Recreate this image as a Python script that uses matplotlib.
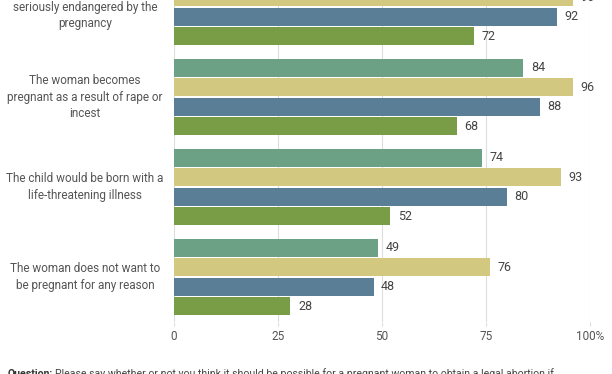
import numpy as np
import matplotlib.pyplot as plt
import matplotlib.transforms as mtransforms

plt.rcParams['font.family'] = ['Roboto', 'DejaVu Sans']

categorias = [
    "The woman's health is\nseriously endangered by the\npregnancy",
    "The woman becomes\npregnant as a result of rape or\nincest",
    "The child would be born with a\nlife-threatening illness",
    "The woman does not want to\nbe pregnant for any reason",
]
serie_a = [86, 84, 74, 49]
serie_b = [96, 96, 93, 76]
serie_c = [92, 88, 80, 48]
serie_d = [72, 68, 52, 28]
colores = ["#6ca185", "#d3c880", "#5a7e95", "#799d47"]
ticks = [0, 25, 50, 75, 100]
tick_labels = ["0", "25", "50", "75", "100%"]

fig = plt.figure(figsize=(6.12, 3.74), dpi=100)
ax = fig.add_axes([174 / 612, 52 / 374, 416 / 612, 360 / 374])

paso = 0.2167
alto = 0.205
y = np.arange(len(categorias))
for i, (serie, color) in enumerate(zip([serie_a, serie_b, serie_c, serie_d], colores)):
    pos = y + (i - 1.5) * paso
    ax.barh(pos, serie, height=alto, color=color, zorder=2)
    for p, v in zip(pos, serie):
        ax.text(v + 1.8, p, str(v), va='center', ha='left', fontsize=9, color='#444444')

ax.set_xlim(0, 100)
ax.set_ylim(3.5, -0.5)
ax.set_xticks(ticks)
ax.set_xticklabels(tick_labels, color='#555555', fontsize=8.5)
ax.tick_params(axis='x', length=3, color='#dddddd', pad=3)
ax.set_yticks([])
ax.grid(axis='x', color='#dddddd', lw=0.8, zorder=0)
for s in ax.spines.values():
    s.set_visible(False)

trans = mtransforms.blended_transform_factory(fig.transFigure, ax.transData)
for k, cat in enumerate(categorias):
    ax.text(85 / 612, k, cat, transform=trans, ha='center', va='center',
            fontsize=8.5, color='#555555', linespacing=1.35)

t1 = fig.text(8 / 612, 0.5 / 374, "Question:", fontsize=7.6, fontweight='bold',
              color='#333333', va='center', ha='left')
fig.canvas.draw()
bb = t1.get_window_extent()
fig.text((bb.x1 + 2) / 612, 0.5 / 374,
         "Please say whether or not you think it should be possible for a pregnant woman to obtain a legal abortion if",
         fontsize=7.6, color='#444444', va='center', ha='left')

fig.savefig("out.png", dpi=100)
